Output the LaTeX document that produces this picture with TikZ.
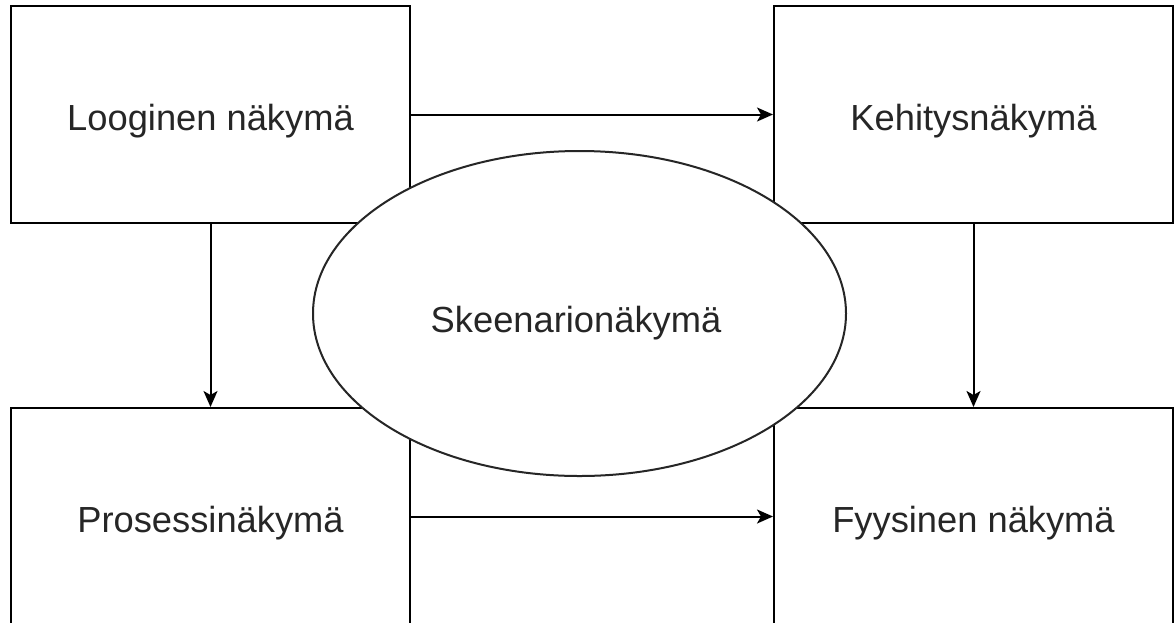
\documentclass[tikz,border=0pt]{standalone}
\usepackage{fontspec}
\setmainfont{Liberation Sans}
\usetikzlibrary{arrows.meta,shapes.geometric}
\tikzset{
  view/.style={draw=black, line width=2pt, fill=white, minimum width=399pt, minimum height=217pt, inner sep=0pt,
    text height=40pt, text depth=7.6pt,
    font=\fontsize{36.3}{43}\selectfont, text=black!85},
  scen/.style={ellipse, draw=black!85, line width=2pt, fill=white, minimum width=533pt, minimum height=325pt, inner sep=0pt},
  lbl/.style={font=\fontsize{36.3}{43}\selectfont, text=black!85, inner sep=0pt},
  arr/.style={line width=2pt, -{Stealth[length=16pt,width=14pt,inset=4pt]}}
}
\begin{document}
\begin{tikzpicture}[x=1pt,y=-1pt]
\useasboundingbox (0,0) rectangle (1175,622);
\clip (0,0) rectangle (1175,622);
\fill[white] (0,0) rectangle (1175,622);
\node[view] (tl) at (210.5,114.5) {Looginen näkymä};
\node[view] (tr) at (973.5,114.5) {Kehitysnäkymä};
\node[view] (bl) at (210.5,516.5) {Prosessinäkymä};
\node[view] (br) at (973.5,516.5) {Fyysinen näkymä};
\draw[arr] (tl) -- (tr);
\draw[arr] (bl) -- (br);
\draw[arr] (tl) -- (bl);
\draw[arr] (tr) -- (br);
\node[scen] (sc) at (579.5,313.5) {};
\node[lbl] (sct) at (576,323.5) {Skeenarionäkymä};
\end{tikzpicture}
\end{document}
